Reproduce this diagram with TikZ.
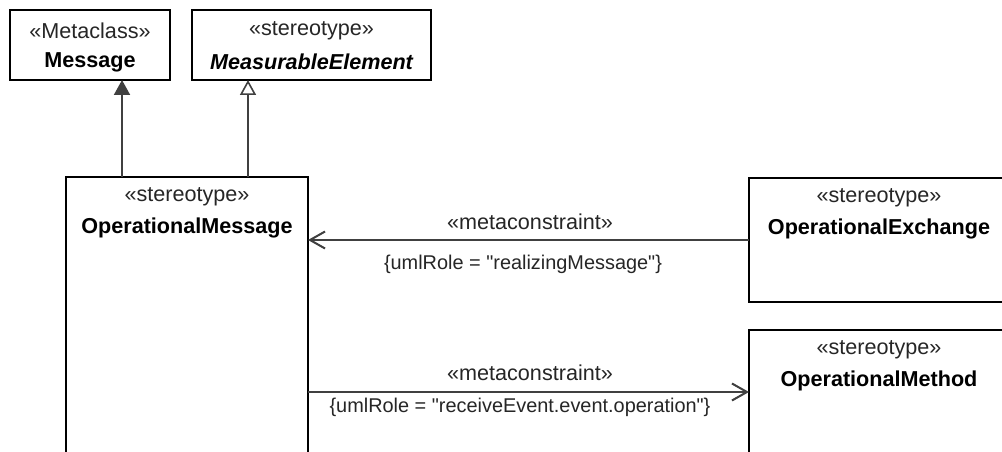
\documentclass[tikz,border=0pt]{standalone}
\usepackage{fontspec}
\setmainfont{Liberation Sans}[Ligatures=TeXOff]
\usetikzlibrary{arrows.meta}
\definecolor{linegray}{HTML}{404040}
\definecolor{txtgray}{HTML}{262626}
\begin{document}
\begin{tikzpicture}[x=1pt,y=-1pt,
  box/.style={draw=black,line width=2.6pt,fill=white,inner sep=0pt,outer sep=0pt},
  stxt/.style={font=\fontsize{21.6}{26}\selectfont,text=txtgray,inner sep=0pt},
  ctxt/.style={font=\fontsize{19.9}{24}\selectfont,text=txtgray,inner sep=0pt},
  ntxt/.style={font=\fontsize{21.6}{26}\selectfont\bfseries,text=black,inner sep=0pt},
  conn/.style={draw=linegray,line width=2pt},
  gen/.style={conn,-{Triangle[length=15pt,width=16pt,fill=linegray]}},
  real/.style={conn,-{Triangle[open,length=15pt,width=16pt,fill=white,line width=1.6pt]}},
  dep/.style={conn,-{Straight Barb[length=15pt,width=17pt,line width=2pt]}}]
\useasboundingbox (0,0) rectangle (1002,452);
\clip (0,0) rectangle (1002,452);
\fill[white] (0,0) rectangle (1002,452);
% boxes
\node[box,minimum width=160pt,minimum height=70pt] (msg) at (90,45) {};
\node[box,minimum width=239pt,minimum height=70pt] (meas) at (311.5,45) {};
\node[box,minimum width=242pt,minimum height=360pt,anchor=north west] (opmsg) at (66,177) {};
\node[box,minimum width=262pt,minimum height=124pt,anchor=north west] (opex) at (749,178) {};
\node[box,minimum width=262pt,minimum height=200pt,anchor=north west] (opmeth) at (749,330) {};
% texts
\node[stxt] (msgS) at (90,31) {«Metaclass»};
\node[ntxt] (msgN) at (90,62) {Message};
\node[stxt] (measS) at (311.5,31) {«stereotype»};
\node[ntxt,font=\fontsize{21.6}{26}\selectfont\bfseries\itshape] (measN) at (311.5,62) {MeasurableElement};
\node[stxt] (opmsgS) at (187,197) {«stereotype»};
\node[ntxt] (opmsgN) at (187,228) {OperationalMessage};
\node[stxt] (opexS) at (879,198) {«stereotype»};
\node[ntxt] (opexN) at (879,229) {OperationalExchange};
\node[stxt] (opmethS) at (879,350) {«stereotype»};
\node[ntxt] (opmethN) at (879,381) {OperationalMethod};
% generalizations
\coordinate (g1) at (122,0);
\coordinate (g2) at (248,0);
\draw[gen] (g1 |- opmsg.north) -- (g1 |- msg.south);
\draw[real] (g2 |- opmsg.north) -- (g2 |- meas.south);
% metaconstraints
\draw[dep] (opex.west) -- (opex.west -| opmsg.east);
\node[stxt] (mc1) at (530,222) {«metaconstraint»};
\node[ctxt] (r1) at (523,264) {\{umlRole = "realizingMessage"\}};
\coordinate (a2) at (308,392);
\draw[dep] (a2) -- (a2 -| opmeth.west);
\node[stxt] (mc2) at (530,373) {«metaconstraint»};
\node[ctxt] (r2) at (520,407) {\{umlRole = "receiveEvent.event.operation"\}};
\end{tikzpicture}
\end{document}
